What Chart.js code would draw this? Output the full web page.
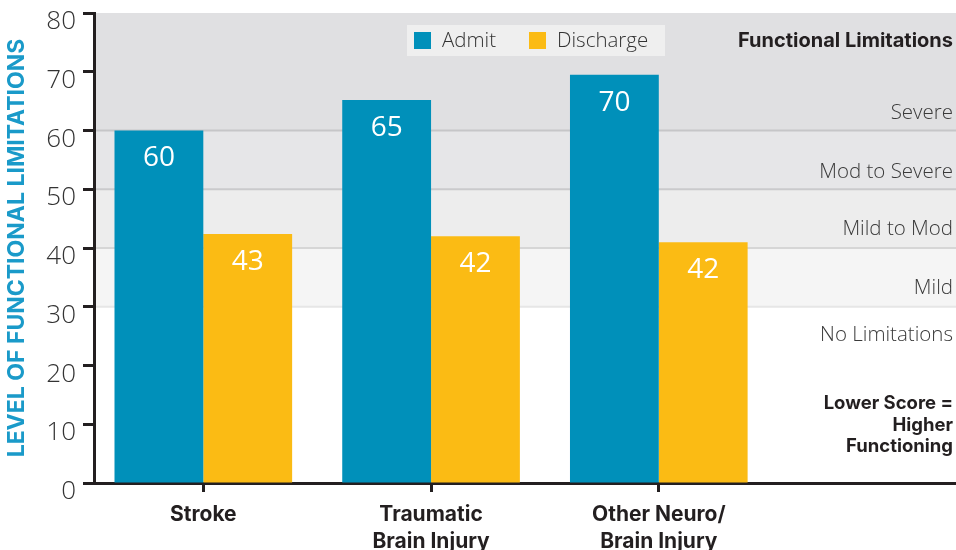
<!DOCTYPE html>
<html>
<head>
<meta charset="utf-8">
<script src="https://cdn.jsdelivr.net/npm/chart.js@4"></script>
<style>
  html, body { margin: 0; padding: 0; background: #ffffff; }
  #wrap { width: 956px; height: 550px; }
</style>
</head>
<body>
<div id="wrap"><canvas id="c" width="956" height="550"></canvas></div>
<script>
// ---- data ----
const categories = ['Stroke', ['Traumatic', 'Brain Injury'], ['Other Neuro/', 'Brain Injury']];
const seriesNames = ['Admit', 'Discharge'];
const admitValues = [60, 65.2, 69.5];
const dischargeValues = [42.4, 42.0, 41.0];
const admitLabels = ['60', '65', '70'];
const dischargeLabels = ['43', '42', '42'];
const yTicks = [0, 10, 20, 30, 40, 50, 60, 70, 80];
const bandEdges = [30, 40, 50, 60, 80];
const bandNames = ['Mild', 'Mild to Mod', 'Mod to Severe', 'Severe'];
const noLimitLabel = 'No Limitations';
const sideTitle = 'Functional Limitations';
const noteLines = ['Lower Score =', 'Higher', 'Functioning'];
const yAxisTitle = 'LEVEL OF FUNCTIONAL LIMITATIONS';

// ---- styles ----
const BLUE = '#0090ba';
const GOLD = '#fbbb14';
const DARK = '#231f20';
const bandFills = ['#f5f5f5', '#ededed', '#e6e6e8', '#e0e0e2'];
const bandLines = ['#e6e6e6', '#d6d6d6', '#cacacc', '#c6c6c8'];
const LIGHT_FONT = "'Open Sans', 'Lato', sans-serif";
const BOLD_FONT = "'Inter', 'Lato', sans-serif";

const bandsPlugin = {
  id: 'bands',
  beforeDraw(chart) {
    const { ctx, chartArea, scales } = chart;
    const y = scales.y;
    ctx.save();
    for (let i = 0; i < bandEdges.length - 1; i++) {
      const top = y.getPixelForValue(bandEdges[i + 1]);
      const bot = y.getPixelForValue(bandEdges[i]);
      ctx.fillStyle = bandFills[i];
      ctx.fillRect(chartArea.left, top, chartArea.right - chartArea.left, bot - top);
    }
    for (let i = 0; i < bandEdges.length - 1; i++) {
      const py = y.getPixelForValue(bandEdges[i]);
      ctx.strokeStyle = bandLines[i];
      ctx.lineWidth = 2;
      ctx.beginPath();
      ctx.moveTo(chartArea.left, py);
      ctx.lineTo(chartArea.right, py);
      ctx.stroke();
    }
    ctx.restore();
  }
};

const legendPlugin = {
  id: 'customLegend',
  afterDraw(chart) {
    const { ctx, chartArea } = chart;
    const cx = chartArea.left + 442;
    const top = chartArea.top + 12;
    const boxW = 258, boxH = 31;
    const left = cx - boxW / 2;
    ctx.save();
    ctx.fillStyle = '#efefef';
    ctx.fillRect(left, top, boxW, boxH);
    ctx.font = '300 20.5px ' + LIGHT_FONT;
    ctx.textBaseline = 'middle';
    ctx.textAlign = 'left';
    const offsets = [7, 122];
    chart.data.datasets.forEach((ds, i) => {
      const x0 = left + offsets[i];
      ctx.fillStyle = ds.backgroundColor;
      ctx.fillRect(x0, top + 7, 17, 17);
      ctx.fillStyle = '#333333';
      ctx.fillText(ds.label, x0 + 28, top + 16);
    });
    ctx.restore();
  }
};

const labelsPlugin = {
  id: 'valueLabels',
  afterDatasetsDraw(chart) {
    const { ctx } = chart;
    const texts = [admitLabels, dischargeLabels];
    ctx.save();
    ctx.fillStyle = '#ffffff';
    ctx.font = '400 28px ' + LIGHT_FONT;
    ctx.textAlign = 'center';
    ctx.textBaseline = 'middle';
    chart.data.datasets.forEach((ds, di) => {
      chart.getDatasetMeta(di).data.forEach((bar, i) => {
        ctx.fillText(texts[di][i], bar.x, bar.y + 28);
      });
    });
    ctx.restore();
  }
};

const sidePlugin = {
  id: 'sideText',
  afterDraw(chart) {
    const { ctx, chartArea, scales } = chart;
    const y = scales.y;
    const x = chartArea.right - 3;
    ctx.save();
    ctx.textAlign = 'right';
    ctx.textBaseline = 'middle';
    ctx.fillStyle = DARK;
    ctx.font = '700 20px ' + BOLD_FONT;
    ctx.fillText(sideTitle, x, chartArea.top + 28);
    ctx.font = '300 20.5px ' + LIGHT_FONT;
    ctx.fillStyle = '#3a3a3a';
    for (let i = 0; i < bandNames.length; i++) {
      const py = y.getPixelForValue(bandEdges[i]) - (i < 2 ? 19 : 17);
      ctx.fillText(bandNames[i], x, py);
    }
    ctx.fillText(noLimitLabel, x, y.getPixelForValue(30) + 28);
    ctx.fillStyle = DARK;
    ctx.font = '700 18.5px ' + BOLD_FONT;
    noteLines.forEach((t, i) => {
      ctx.fillText(t, x, y.getPixelForValue(30) + 97 + i * 21.5);
    });
    ctx.restore();
  }
};

new Chart(document.getElementById('c'), {
  type: 'bar',
  data: {
    labels: categories,
    datasets: [
      { label: seriesNames[0], data: admitValues, backgroundColor: BLUE },
      { label: seriesNames[1], data: dischargeValues, backgroundColor: GOLD }
    ]
  },
  options: {
    responsive: false,
    animation: false,
    layout: { padding: 0 },
    datasets: {
      bar: { categoryPercentage: 0.78, barPercentage: 1.0, borderWidth: 0 }
    },
    plugins: {
      tooltip: { enabled: false },
      legend: { display: false }
    },
    scales: {
      x: {
        offset: true,
        afterBuildTicks(scale) {
          scale._startValue = -0.48;
          scale._valueRange = 3.785;
        },
        afterFit(scale) { scale.height = 67; scale.paddingLeft = 0; scale.paddingRight = 0; },
        border: { display: true, color: DARK, width: 3 },
        grid: {
          display: true,
          offset: false,
          drawOnChartArea: false,
          drawTicks: true,
          tickLength: 9,
          tickWidth: 3,
          tickColor: DARK
        },
        ticks: {
          color: DARK,
          padding: 10,
          maxRotation: 0,
          autoSkip: false,
          font: { size: 21, weight: '700', family: BOLD_FONT, lineHeight: 1.25 }
        }
      },
      y: {
        min: 0,
        max: 80,
        afterBuildTicks(scale) { scale.ticks = yTicks.map(v => ({ value: v })); },
        afterFit(scale) { scale.width = 94; scale.paddingTop = 13; scale.paddingBottom = 0; },
        border: { display: true, color: DARK, width: 3 },
        grid: {
          display: true,
          drawOnChartArea: false,
          drawTicks: true,
          tickLength: 11,
          tickWidth: 3,
          tickColor: DARK
        },
        ticks: {
          color: '#333333',
          padding: 7,
          callback: (v) => ['', String(v)],
          font: { size: 26, weight: '300', family: LIGHT_FONT, lineHeight: 0.68 }
        },
        title: {
          display: true,
          text: yAxisTitle,
          color: '#1a9ac9',
          padding: { top: 3, bottom: 0 },
          font: { size: 23, weight: '700', family: BOLD_FONT }
        }
      }
    }
  },
  plugins: [bandsPlugin, labelsPlugin, legendPlugin, sidePlugin]
});
</script>
</body>
</html>
